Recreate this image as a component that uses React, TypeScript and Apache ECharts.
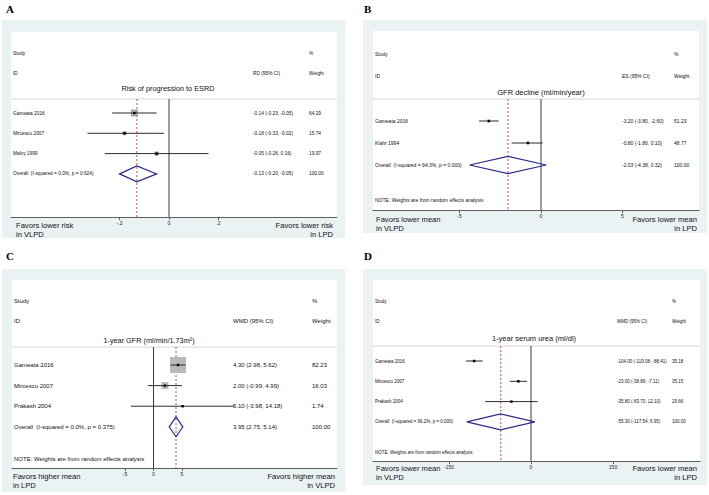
import React, { useEffect, useRef } from "react";
import * as echarts from "echarts";

// ---------- DATA ----------
// Panel A: Risk of progression to ESRD (RD)
const studiesA = ["Gameata 2016", "Mircescu 2007", "Malvy 1999"];
const estA = [-0.14, -0.18, -0.05];
const lowA = [-0.23, -0.33, -0.26];
const highA = [-0.05, -0.02, 0.16];
const weightA = [64.29, 15.74, 19.97];
const overallA = [-0.13, -0.2, -0.05];
const hetA = "(I-squared = 0.0%, p = 0.624)";
const ticksA = [-0.2, 0, 0.2];
const tickLabelsA = ["-.2", "0", ".2"];

// Panel B: GFR decline (ES)
const studiesB = ["Gameata 2016", "Klahr 1994"];
const estB = [-3.2, -0.8];
const lowB = [-3.8, -1.8];
const highB = [-2.6, 0.1];
const weightB = [51.23, 48.77];
const overallB = [-2.03, -4.38, 0.32];
const hetB = "(I-squared = 94.3%, p = 0.000)";
const ticksB = [-5, 0, 5];
const tickLabelsB = ["-5", "0", "5"];

// Panel C: 1-year GFR (WMD)
const studiesC = ["Gameata 2016", "Mircescu 2007", "Prakash 2004"];
const estC = [4.3, 2.0, 5.1];
const lowC = [2.98, -0.99, -3.98];
const highC = [5.62, 4.99, 14.18];
const weightC = [82.23, 16.03, 1.74];
const overallC = [3.95, 2.75, 5.14];
const hetC = "(I-squared = 0.0%, p = 0.375)";
const ticksC = [-5, 0, 5];
const tickLabelsC = ["-5", "0", "5"];

// Panel D: 1-year serum urea (WMD)
const studiesD = ["Gameata 2016", "Mircescu 2007", "Prakash 2004"];
const estD = [-104.0, -23.0, -35.8];
const lowD = [-119.08, -38.89, -83.7];
const highD = [-88.41, -7.11, 12.1];
const weightD = [35.18, 35.15, 29.66];
const overallD = [-55.3, -117.54, 6.95];
const hetD = "(I-squared = 96.2%, p = 0.000)";
const ticksD = [-150, 0, 150];
const tickLabelsD = ["-150", "0", "150"];

const titles = [
  "Risk of progression to ESRD",
  "GFR decline (ml/min/year)",
  "1-year GFR (ml/min/1.73m²)",
  "1-year serum urea (ml/dl)",
];
const colHeaders = ["RD (95% CI)", "ES (95% CI)", "WMD (95% CI)", "WMD (95% CI)"];
const favorsLeft = [
  ["Favors lower risk", "in VLPD"],
  ["Favors lower mean", "in VLPD"],
  ["Favors higher mean", "in LPD"],
  ["Favors lower mean", "in VLPD"],
];
const favorsRight = [
  ["Favors lower risk", "in LPD"],
  ["Favors lower mean", "in LPD"],
  ["Favors higher mean", "in VLPD"],
  ["Favors lower mean", "in LPD"],
];
const panelLetters = ["A", "B", "C", "D"];
const noteText = "NOTE: Weights are from random effects analysis";
const hasNote = [false, true, true, true];

// ---------- LAYOUT (pixels / styles) ----------
const FONT = "Liberation Sans, Arial, Helvetica, sans-serif";
const SERIF = "Liberation Serif, Times New Roman, serif";

type Layout = {
  outer: number[];
  inner: number[];
  axisY: number;
  zeroX: number;
  ppu: number;
  row0: number;
  step: number;
  studyY: number;
  idY: number;
  titleY: number;
  titleX: number;
  sepY: number;
  noteY: number;
  estX: number;
  wX: number;
  font: number;
  titleFont: number;
  boxScale: number;
  diamondH: number;
  fav: number[];
  letterXY: number[];
};

const layouts: Layout[] = [
  {
    outer: [2, 20, 345, 238], inner: [11, 32, 337], axisY: 217, zeroX: 169, ppu: 247,
    row0: 113, step: 20.3, studyY: 53, idY: 73, titleY: 88, titleX: 168, sepY: 99, noteY: 0,
    estX: 253, wX: 309, font: 4.8, titleFont: 7.3, boxScale: 7.5, diamondH: 8,
    fav: [16, 225, 234, 333], letterXY: [6, 9],
  },
  {
    outer: [363, 20, 707, 233], inner: [373, 31, 699], axisY: 210, zeroX: 541, ppu: 16.3,
    row0: 121, step: 22, studyY: 54, idY: 76, titleY: 92, titleX: 541, sepY: 99, noteY: 200,
    estX: 622, wX: 674, font: 5, titleFont: 7.5, boxScale: 4, diamondH: 8.7,
    fav: [376, 219, 228, 697], letterXY: [364, 9],
  },
  {
    outer: [2, 269, 345, 492], inner: [12, 280, 337], axisY: 468, zeroX: 153.5, ppu: 5.7,
    row0: 365, step: 20.6, studyY: 301, idY: 321, titleY: 340, titleX: 149, sepY: 347, noteY: 459,
    estX: 233, wX: 312, font: 6, titleFont: 7.3, boxScale: 17.6, diamondH: 10,
    fav: [13, 476, 485, 335], letterXY: [6, 256],
  },
  {
    outer: [363, 269, 707, 485], inner: [373, 280, 700], axisY: 461, zeroX: 531, ppu: 0.5467,
    row0: 361, step: 20.3, studyY: 301, idY: 321, titleY: 338, titleX: 534, sepY: 346, noteY: 452,
    estX: 617, wX: 672, font: 4.5, titleFont: 7.5, boxScale: 4, diamondH: 8,
    fav: [376, 468, 477, 697], letterXY: [364, 256],
  },
];

const panelsData = [
  { names: studiesA, est: estA, low: lowA, high: highA, w: weightA, overall: overallA, het: hetA, ticks: ticksA, tickLabels: tickLabelsA },
  { names: studiesB, est: estB, low: lowB, high: highB, w: weightB, overall: overallB, het: hetB, ticks: ticksB, tickLabels: tickLabelsB },
  { names: studiesC, est: estC, low: lowC, high: highC, w: weightC, overall: overallC, het: hetC, ticks: ticksC, tickLabels: tickLabelsC },
  { names: studiesD, est: estD, low: lowD, high: highD, w: weightD, overall: overallD, het: hetD, ticks: ticksD, tickLabels: tickLabelsD },
];

function txt(x: number, y: number, text: string, size: number, opts: any = {}) {
  const align = opts.align || "left";
  return {
    type: "text",
    x,
    y,
    z: 20,
    silent: true,
    style: {
      text,
      fontSize: size,
      fontFamily: opts.family || FONT,
      fontWeight: opts.weight || "normal",
      fill: opts.fill || "#111",
      align,
      verticalAlign: "middle",
      textAlign: align,
      textVerticalAlign: "middle",
    },
  };
}

const f2 = (v: number) => v.toFixed(2);

function buildOption() {
  const grid: any[] = [];
  const xAxis: any[] = [];
  const yAxis: any[] = [];
  const series: any[] = [];
  const graphic: any[] = [];

  layouts.forEach((L, i) => {
    const d = panelsData[i];
    const toRow = (py: number) => (py - L.row0) / L.step;
    const xMin = (L.inner[0] - L.zeroX) / L.ppu;
    const xMax = (L.inner[2] - L.zeroX) / L.ppu;
    const yMin = toRow(L.inner[1]);
    const yMax = toRow(L.axisY);
    const sepRow = toRow(L.sepY);
    const n = d.names.length;

    grid.push({
      left: L.inner[0],
      top: L.inner[1],
      width: L.inner[2] - L.inner[0],
      height: L.axisY - L.inner[1],
      containLabel: false,
    });
    xAxis.push({
      type: "value",
      gridIndex: i,
      min: xMin,
      max: xMax,
      splitLine: { show: false },
      axisLine: { show: true, onZero: false, lineStyle: { color: "#5e5e5e", width: 1 } },
      axisTick: { show: true, customValues: d.ticks, length: 3, lineStyle: { color: "#5e5e5e", width: 1 } },
      axisLabel: {
        show: true,
        customValues: d.ticks,
        fontSize: 5,
        fontFamily: FONT,
        color: "#222",
        margin: 3,
        formatter: (v: number) => {
          const k = d.ticks.findIndex((t) => Math.abs(t - v) < 1e-9);
          return k >= 0 ? d.tickLabels[k] : "";
        },
      },
    });
    yAxis.push({ type: "value", gridIndex: i, min: yMin, max: yMax, inverse: true, show: false });

    // zero line
    series.push({
      type: "line",
      xAxisIndex: i,
      yAxisIndex: i,
      data: [[0, sepRow], [0, yMax]],
      symbol: "none",
      silent: true,
      z: 3,
      lineStyle: { color: "#3a3a3a", width: 1 },
    });
    // overall estimate dashed line
    series.push({
      type: "line",
      xAxisIndex: i,
      yAxisIndex: i,
      data: [[d.overall[0], sepRow], [d.overall[0], yMax]],
      symbol: "none",
      silent: true,
      z: 4,
      lineStyle: { color: "#d0464f", width: 1, type: [2, 2] },
    });
    // studies
    series.push({
      type: "custom",
      xAxisIndex: i,
      yAxisIndex: i,
      clip: false,
      z: 6,
      silent: true,
      data: d.est.map((e, k) => [e, d.low[k], d.high[k], d.w[k], k]),
      encode: { x: [0, 1, 2], y: 4 },
      renderItem: (params: any, api: any) => {
        const e = api.value(0), lo = api.value(1), hi = api.value(2), w = api.value(3), r = api.value(4);
        const p = api.coord([e, r]);
        const a = api.coord([lo, r]);
        const b = api.coord([hi, r]);
        const s = L.boxScale * Math.sqrt(w / 100);
        return {
          type: "group",
          children: [
            { type: "rect", shape: { x: p[0] - s / 2, y: p[1] - s / 2, width: s, height: s }, style: { fill: "#b9b9b9", stroke: i === 0 ? "#777" : null, lineWidth: 0.6 } },
            { type: "line", shape: { x1: a[0], y1: a[1], x2: b[0], y2: b[1] }, style: { stroke: "#2b2b2b", lineWidth: 1 } },
            { type: "rect", shape: { x: p[0] - 1.2, y: p[1] - 1.2, width: 2.4, height: 2.4 }, style: { fill: "#000" } },
          ],
        };
      },
    });
    // overall diamond
    series.push({
      type: "custom",
      xAxisIndex: i,
      yAxisIndex: i,
      clip: false,
      z: 7,
      silent: true,
      data: [[d.overall[0], d.overall[1], d.overall[2], n]],
      encode: { x: [0, 1, 2], y: 3 },
      renderItem: (params: any, api: any) => {
        const r = api.value(3);
        const p = api.coord([api.value(0), r]);
        const a = api.coord([api.value(1), r]);
        const b = api.coord([api.value(2), r]);
        const h = L.diamondH;
        return {
          type: "polygon",
          shape: { points: [[a[0], p[1]], [p[0], p[1] - h], [b[0], p[1]], [p[0], p[1] + h]] },
          style: { fill: "none", stroke: "#2c2c8c", lineWidth: 1.2 },
        };
      },
    });
    // row texts
    const rowNames = d.names.concat(["Overall  " + d.het]);
    const rowEst = d.est.map((e, k) => `${f2(e)} (${f2(d.low[k])}, ${f2(d.high[k])})`).concat([
      `${f2(d.overall[0])} (${f2(d.overall[1])}, ${f2(d.overall[2])})`,
    ]);
    const rowW = d.w.map(f2).concat(["100.00"]);
    series.push({
      type: "custom",
      xAxisIndex: i,
      yAxisIndex: i,
      clip: false,
      z: 8,
      silent: true,
      data: rowNames.map((_, k) => [0, k]),
      encode: { x: 0, y: 1 },
      renderItem: (params: any, api: any) => {
        const k = params.dataIndex;
        const y = api.coord([0, api.value(1)])[1];
        return {
          type: "group",
          children: [
            txt(L.inner[0] + 2, y, rowNames[k], L.font),
            txt(L.estX, y, rowEst[k], L.font),
            txt(L.wX, y, rowW[k], L.font),
          ],
        };
      },
    });

    // layout graphics
    graphic.push({
      type: "rect",
      z: -20,
      silent: true,
      shape: { x: L.outer[0], y: L.outer[1], width: L.outer[2] - L.outer[0], height: L.outer[3] - L.outer[1] },
      style: { fill: "#eaf2f3" },
    });
    graphic.push({
      type: "rect",
      z: -19,
      silent: true,
      shape: { x: L.inner[0], y: L.inner[1], width: L.inner[2] - L.inner[0], height: L.axisY - L.inner[1] },
      style: { fill: "#ffffff" },
    });
    graphic.push({
      type: "line",
      z: -18,
      silent: true,
      shape: { x1: L.inner[0], y1: L.sepY, x2: L.inner[2], y2: L.sepY },
      style: { stroke: "#d6d6d6", lineWidth: 1 },
    });
    graphic.push(txt(L.letterXY[0], L.letterXY[1], panelLetters[i], 11, { family: SERIF, weight: "bold", fill: "#000" }));
    graphic.push(txt(L.inner[0] + 2, L.studyY, "Study", L.font));
    graphic.push(txt(L.inner[0] + 2, L.idY, "ID", L.font));
    graphic.push(txt(L.wX, L.studyY, "%", L.font));
    graphic.push(txt(L.wX, L.idY, "Weight", L.font));
    graphic.push(txt(L.estX, L.idY, colHeaders[i], L.font));
    graphic.push(txt(L.titleX, L.titleY, titles[i], L.titleFont, { align: "center" }));
    if (hasNote[i]) graphic.push(txt(L.inner[0] + 2, L.noteY, noteText, L.font));
    graphic.push(txt(L.fav[0], L.fav[1], favorsLeft[i][0], 7.6));
    graphic.push(txt(L.fav[0], L.fav[2], favorsLeft[i][1], 7.6));
    graphic.push(txt(L.fav[3], L.fav[1], favorsRight[i][0], 7.6, { align: "right" }));
    graphic.push(txt(L.fav[3], L.fav[2], favorsRight[i][1], 7.6, { align: "right" }));
  });

  return {
    animation: false,
    backgroundColor: "#ffffff",
    grid,
    xAxis,
    yAxis,
    series,
    graphic: { elements: graphic },
  };
}

export default function App() {
  const ref = useRef<HTMLDivElement>(null);
  useEffect(() => {
    if (!ref.current) return;
    const chart = echarts.init(ref.current, undefined, { renderer: "svg" });
    chart.setOption(buildOption() as any);
    return () => chart.dispose();
  }, []);
  return (
    <div
      ref={ref}
      style={{ position: "absolute", left: 0, top: 0, width: 709, height: 495, background: "#fff" }}
    />
  );
}
